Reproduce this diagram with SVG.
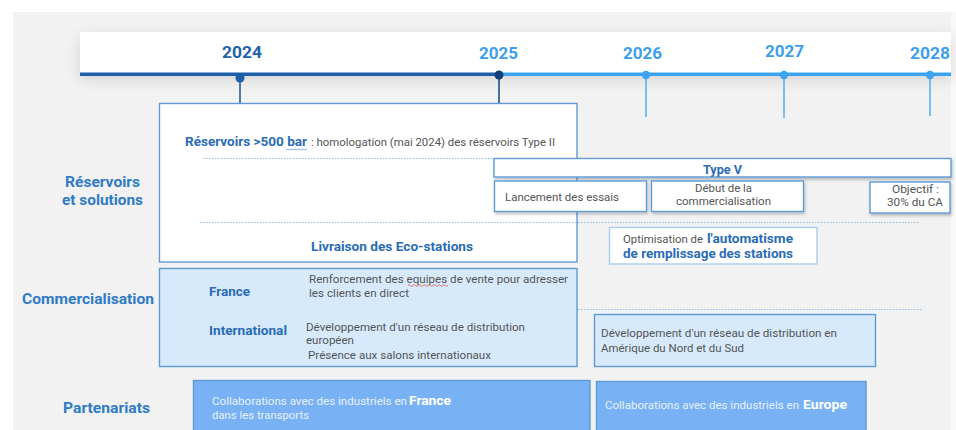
<svg xmlns="http://www.w3.org/2000/svg" width="956" height="430" viewBox="0 0 956 430">
  <defs>
    <filter id="bandShadow" x="-10%" y="-50%" width="120%" height="200%">
      <feDropShadow dx="0" dy="5" stdDeviation="7" flood-color="#000" flood-opacity="0.14"/>
    </filter>
    <filter id="boxShadow" x="-10%" y="-20%" width="120%" height="160%">
      <feDropShadow dx="1" dy="2" stdDeviation="1.5" flood-color="#000" flood-opacity="0.25"/>
    </filter>
    <style>
      text { font-family: Roboto, "Liberation Sans", sans-serif; }
      .year { font-size: 16.5px; font-weight: 700; }
      .row { font-size: 14.5px; font-weight: 700; fill: #2f7bc8; }
      .title { font-size: 12.5px; font-weight: 700; fill: #2a6bb6; }
      .small { font-size: 10.6px; fill: #555; }
      .box { fill: #fff; stroke: #5f9ad6; stroke-width: 1.4; }
      .comm { fill: #d6eafc; stroke: #5f9ad6; stroke-width: 1.4; }
      .part { fill: #79b2f4; stroke: #5f9ad6; stroke-width: 1.4; }
      .dots { stroke: #8fbbe6; stroke-width: 1; stroke-dasharray: 1.5 1.5; fill: none; }
      .ptext { font-size: 10.6px; fill: #e6f0fc; }
      .pbold { font-size: 12.5px; font-weight: 700; fill: #fff; }
    </style>
  </defs>

  <!-- page background -->
  <rect x="0" y="0" width="956" height="430" fill="#fff"/>
  <rect x="13" y="12" width="938" height="418" fill="#f2f2f2"/>
  <rect x="951" y="12" width="5" height="418" fill="#f8f8f8"/>

  <!-- timeline header -->
  <g id="timeline">
    <rect x="80" y="32" width="871" height="42" fill="#fff" filter="url(#bandShadow)"/>
    <line x1="80" y1="74.3" x2="499" y2="74.3" stroke="#1d5fa9" stroke-width="3.5"/>
    <line x1="499" y1="74.3" x2="951" y2="74.3" stroke="#3ba3f2" stroke-width="3.5"/>
    <line x1="240" y1="78" x2="240" y2="120" stroke="#1d5fa9" stroke-width="1.6"/>
    <line x1="499" y1="75" x2="499" y2="117" stroke="#1a4f8f" stroke-width="1.6"/>
    <line x1="646" y1="75" x2="646" y2="117" stroke="#5bb0f0" stroke-width="1.6"/>
    <line x1="784" y1="75" x2="784" y2="118" stroke="#5bb0f0" stroke-width="1.6"/>
    <line x1="930" y1="75" x2="930" y2="116" stroke="#5bb0f0" stroke-width="1.6"/>
    <circle cx="240" cy="78" r="4.5" fill="#1d5fa9"/>
    <circle cx="499" cy="75" r="4.5" fill="#133f78"/>
    <circle cx="646" cy="75" r="4.2" fill="#3ba3f2"/>
    <circle cx="784" cy="75" r="4.2" fill="#3ba3f2"/>
    <circle cx="930" cy="75" r="4.2" fill="#3ba3f2"/>
    <text class="year" x="222" y="58" fill="#2063a8" textLength="40" lengthAdjust="spacingAndGlyphs">2024</text>
    <text class="year" x="479" y="59" fill="#3d9fec" textLength="39" lengthAdjust="spacingAndGlyphs">2025</text>
    <text class="year" x="623" y="59" fill="#3d9fec" textLength="39" lengthAdjust="spacingAndGlyphs">2026</text>
    <text class="year" x="765" y="57" fill="#3d9fec" textLength="39" lengthAdjust="spacingAndGlyphs">2027</text>
    <text class="year" x="910" y="59" fill="#3d9fec" textLength="40" lengthAdjust="spacingAndGlyphs">2028</text>
  </g>

  <!-- row labels -->
  <g id="row-labels">
    <text class="row" x="65" y="187" textLength="75" lengthAdjust="spacingAndGlyphs">Réservoirs</text>
    <text class="row" x="62" y="205" textLength="81" lengthAdjust="spacingAndGlyphs">et solutions</text>
    <text class="row" x="22" y="304" textLength="132" lengthAdjust="spacingAndGlyphs">Commercialisation</text>
    <text class="row" x="63" y="413" textLength="87" lengthAdjust="spacingAndGlyphs">Partenariats</text>
  </g>

  <!-- dotted separators between sub-rows -->
  <g id="connectors">
    <line class="dots" x1="203" y1="158.5" x2="494" y2="158.5"/>
    <line class="dots" x1="200" y1="222.5" x2="920" y2="222.5"/>
    <line class="dots" x1="203" y1="309.5" x2="922" y2="309.5"/>
  </g>

  <!-- Réservoirs et solutions -->
  <g id="reservoirs">
    <rect class="box" x="159.5" y="103.5" width="417.5" height="158.5"/>
    <line class="dots" x1="203" y1="158.5" x2="494" y2="158.5"/>
    <line class="dots" x1="200" y1="222.5" x2="577" y2="222.5"/>
    <text class="title" x="185" y="146" textLength="122" lengthAdjust="spacingAndGlyphs">Réservoirs &gt;500 bar</text>
    <text class="small" x="311" y="146" textLength="244" lengthAdjust="spacingAndGlyphs">: homologation (mai 2024) des réservoirs Type II</text>
    <line x1="286" y1="149.5" x2="307" y2="149.5" stroke="#9cc3ea" stroke-width="1.2"/>
    <text class="title" x="311" y="251" textLength="162" lengthAdjust="spacingAndGlyphs">Livraison des Eco-stations</text>
  </g>

  <g id="type-v">
    <rect class="box" x="494" y="158.5" width="457" height="18.5" filter="url(#boxShadow)"/>
    <text class="title" x="703" y="174" textLength="39" lengthAdjust="spacingAndGlyphs">Type V</text>
  </g>

  <g id="lancement">
    <rect class="box" x="494.5" y="181" width="152" height="30.5" filter="url(#boxShadow)"/>
    <text class="small" x="505" y="201" textLength="114" lengthAdjust="spacingAndGlyphs">Lancement des essais</text>
  </g>

  <g id="debut">
    <rect class="box" x="651.5" y="181" width="152" height="30.5" filter="url(#boxShadow)"/>
    <text class="small" x="695" y="192" textLength="57" lengthAdjust="spacingAndGlyphs">Début de la</text>
    <text class="small" x="676" y="205" textLength="95" lengthAdjust="spacingAndGlyphs">commercialisation</text>
  </g>

  <g id="objectif">
    <rect class="box" x="870" y="182" width="80" height="31" filter="url(#boxShadow)"/>
    <text class="small" x="892" y="193" textLength="47" lengthAdjust="spacingAndGlyphs">Objectif :</text>
    <text class="small" x="887" y="206" textLength="56" lengthAdjust="spacingAndGlyphs">30% du CA</text>
  </g>

  <g id="optimisation">
    <rect x="609.5" y="227.5" width="207.5" height="36.5" fill="#fff" stroke="#a9cdef" stroke-width="1.4"/>
    <text class="small" x="623" y="243" textLength="80" lengthAdjust="spacingAndGlyphs">Optimisation de</text>
    <text class="title" x="707" y="243" font-size="13" textLength="86" lengthAdjust="spacingAndGlyphs">l'automatisme</text>
    <text class="title" x="623" y="258" font-size="13" textLength="170" lengthAdjust="spacingAndGlyphs">de remplissage des stations</text>
  </g>

  <!-- Commercialisation -->
  <g id="commercialisation">
    <rect class="comm" x="159.5" y="268.5" width="417.5" height="98"/>
    <text class="title" x="209" y="296" textLength="41" lengthAdjust="spacingAndGlyphs">France</text>
    <text class="title" x="209" y="335" textLength="78" lengthAdjust="spacingAndGlyphs">International</text>
    <text class="small" x="309" y="283" textLength="259" lengthAdjust="spacingAndGlyphs">Renforcement des equipes de vente pour adresser</text>
    <path d="M408 285.5 q1.25 -1.5 2.5 0 t2.5 0 t2.5 0 t2.5 0 t2.5 0 t2.5 0 t2.5 0 t2.5 0 t2.5 0 t2.5 0 t2.5 0 t2.5 0 t2.5 0 t2.5 0 t2.5 0 t2.5 0" fill="none" stroke="#e0504a" stroke-width="0.8"/>
    <text class="small" x="309" y="297" textLength="100" lengthAdjust="spacingAndGlyphs">les clients en direct</text>
    <text class="small" x="306" y="331" textLength="219" lengthAdjust="spacingAndGlyphs">Développement d'un réseau de distribution</text>
    <text class="small" x="306" y="344" textLength="48" lengthAdjust="spacingAndGlyphs">européen</text>
    <text class="small" x="308" y="359" textLength="183" lengthAdjust="spacingAndGlyphs">Présence aux salons internationaux</text>
  </g>

  <g id="commercialisation-ameriques">
    <rect class="comm" x="594.5" y="314.5" width="281" height="52"/>
    <text class="small" x="601" y="337" textLength="236" lengthAdjust="spacingAndGlyphs">Développement d'un réseau de distribution en</text>
    <text class="small" x="601" y="352" textLength="143" lengthAdjust="spacingAndGlyphs">Amérique du Nord et du Sud</text>
  </g>

  <!-- Partenariats -->
  <g id="partenariats-france">
    <rect class="part" x="193.5" y="380.5" width="396.5" height="55"/>
    <text class="ptext" x="212" y="405" textLength="195" lengthAdjust="spacingAndGlyphs">Collaborations avec des industriels en</text>
    <text class="pbold" x="409" y="405" textLength="42" lengthAdjust="spacingAndGlyphs">France</text>
    <text class="ptext" x="212" y="419" textLength="97" lengthAdjust="spacingAndGlyphs">dans les transports</text>
  </g>

  <g id="partenariats-europe">
    <rect class="part" x="596.5" y="381.5" width="269.5" height="55"/>
    <text class="ptext" x="605" y="409" textLength="194" lengthAdjust="spacingAndGlyphs">Collaborations avec des industriels en</text>
    <text class="pbold" x="803" y="409" textLength="44" lengthAdjust="spacingAndGlyphs">Europe</text>
  </g>
</svg>
